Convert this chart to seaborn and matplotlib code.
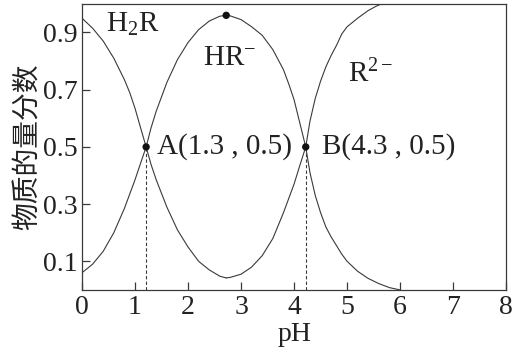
import matplotlib
matplotlib.use("Agg")
import matplotlib.pyplot as plt
import seaborn as sns
import pandas as pd

sns.set_theme(style="white")
plt.rcParams['font.family'] = ['Liberation Serif', 'Noto Sans CJK SC', 'DejaVu Sans']
plt.rcParams['mathtext.fontset'] = 'custom'
plt.rcParams['mathtext.rm'] = 'Liberation Serif'
plt.rcParams['mathtext.it'] = 'Liberation Serif:italic'

# ---- data ----
h2r_x = [0.0, 0.2, 0.4, 0.6, 0.8, 0.9, 1.0, 1.1, 1.21, 1.3, 1.4, 1.6, 1.8, 2.0, 2.2, 2.4, 2.6, 2.72]
h2r_y = [0.95, 0.915, 0.87, 0.81, 0.735, 0.69, 0.635, 0.57, 0.50, 0.44, 0.385, 0.29, 0.21, 0.15, 0.10, 0.07, 0.048, 0.042]

hr_x = [0.0, 0.2, 0.4, 0.6, 0.8, 1.0, 1.1, 1.21, 1.3, 1.4, 1.6, 1.8, 2.0, 2.2, 2.4, 2.6, 2.72,
        2.8, 3.0, 3.2, 3.4, 3.6, 3.8, 3.9, 4.0, 4.1, 4.22,
        4.3, 4.4, 4.5, 4.6, 4.7, 4.8, 4.9, 5.0, 5.2, 5.4, 5.6, 5.8, 6.0]
hr_y = [0.06, 0.09, 0.135, 0.20, 0.285, 0.385, 0.44, 0.50, 0.565, 0.625, 0.725, 0.805, 0.865, 0.91, 0.94, 0.957, 0.96,
        0.958, 0.945, 0.92, 0.89, 0.84, 0.77, 0.72, 0.665, 0.59, 0.50,
        0.41, 0.33, 0.27, 0.22, 0.185, 0.155, 0.125, 0.10, 0.065, 0.04, 0.022, 0.008, 0.0]

r_x = [2.72, 2.8, 3.0, 3.2, 3.4, 3.6, 3.8, 3.9, 4.0, 4.1, 4.22,
       4.3, 4.4, 4.5, 4.6, 4.7, 4.8, 4.9, 5.0, 5.2, 5.4, 5.55, 5.65]
r_y = [0.042, 0.044, 0.055, 0.08, 0.12, 0.18, 0.27, 0.32, 0.37, 0.43, 0.50,
       0.59, 0.67, 0.73, 0.78, 0.82, 0.855, 0.895, 0.92, 0.95, 0.977, 0.992, 1.0]

point_x = [1.21, 4.22, 2.72]
point_y = [0.5, 0.5, 0.96]
point_labels = ["A(1.3 , 0.5)", "B(4.3 , 0.5)"]

x_ticks = [0, 1, 2, 3, 4, 5, 6, 7, 8]
y_ticks = [0.1, 0.3, 0.5, 0.7, 0.9]

species = ["H$_2$R", "HR$^{-}$", "R$^{2-}$"]
species_pos = [(0.45, 0.93), (2.28, 0.81), (5.02, 0.755)]

# ---- figure ----
fig = plt.figure(figsize=(5.17, 3.54), dpi=100)
ax = fig.add_axes([0.1586, 0.181, 0.8204, 0.808])

col = "#3a3a3a"
for xs, ys in [(h2r_x, h2r_y), (hr_x, hr_y), (r_x, r_y)]:
    sns.lineplot(x=xs, y=ys, ax=ax, color=col, linewidth=0.8, sort=False, estimator=None)

for xv in point_x[:2]:
    ax.plot([xv, xv], [0, 0.5], linestyle=(0, (3, 2)), color=col, linewidth=0.8)

sns.scatterplot(x=point_x, y=point_y, ax=ax, color="#111111", s=28, edgecolor="none", zorder=5)

fs = 20
afs = 21
tc = "#222222"
ax.text(point_x[0] + 0.2, 0.5, point_labels[0], fontsize=afs, va="center", ha="left", color=tc)
ax.text(point_x[1] + 0.3, 0.5, point_labels[1], fontsize=afs, va="center", ha="left", color=tc)
for lab, (px, py) in zip(species, species_pos):
    ax.text(px, py, lab, fontsize=afs, va="center", ha="left", color=tc)

ax.set_xlim(0, 8)
ax.set_ylim(0, 1.0)
ax.set_xticks(x_ticks)
ax.set_yticks(y_ticks)
ax.set_xticklabels([str(t) for t in x_ticks])
ax.set_yticklabels([str(t) for t in y_ticks])
ax.tick_params(axis="both", direction="in", length=6, width=0.9, colors=col,
               labelsize=fs, labelcolor=tc, left=True, bottom=True)
ax.tick_params(axis="x", pad=4)
ax.tick_params(axis="y", pad=3)
for s in ax.spines.values():
    s.set_color(col)
    s.set_linewidth(0.9)
    s.set_visible(True)

ax.set_xlabel("pH", fontsize=fs, color=tc, labelpad=1)
ax.set_ylabel("物质的量分数", fontsize=20, color=tc,
              family=['Noto Sans CJK SC', 'DejaVu Sans'], labelpad=0)

fig.savefig("out.png", dpi=100)
